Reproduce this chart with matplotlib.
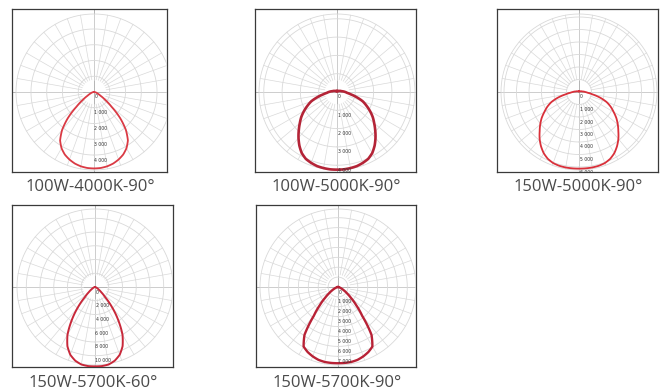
import numpy as np
import matplotlib
matplotlib.use("Agg")
import matplotlib.pyplot as plt
from matplotlib.transforms import offset_copy

# ---------------- data ----------------
ANGLES = [0, 5, 10, 15, 20, 25, 30, 35, 40, 45, 50, 55, 60, 65, 70, 75, 80, 85, 90, 100, 120, 150, 180]

I_100W_4000K_90 = [4850, 4840, 4790, 4700, 4560, 4380, 4120, 3750, 3150, 2350, 1450, 850, 480, 300,
                   200, 130, 80, 40, 0, 0, 0, 0, 0]
I_100W_5000K_90 = [4240, 4240, 4220, 4190, 4120, 4030, 3850, 3580, 3270, 2950, 2650, 2380, 2080, 1780,
                   1500, 1120, 780, 560, 450, 250, 100, 50, 50]
I_150W_5000K_90 = [6130, 6130, 6130, 6110, 6050, 5900, 5650, 5300, 4900, 4450, 4050, 3650, 3200, 2800,
                   2350, 1750, 1100, 700, 500, 250, 100, 50, 50]
I_150W_5700K_60 = [11550, 11550, 11450, 11100, 10500, 9500, 8000, 5900, 3900, 2100, 1200, 700, 400, 250,
                   150, 100, 50, 20, 0, 0, 0, 0, 0]
I_150W_5700K_90 = [7700, 7700, 7690, 7620, 7460, 7250, 6950, 5900, 3800, 2600, 1700, 1100, 700, 420,
                   250, 150, 80, 30, 0, 0, 0, 0, 0]

TITLES = ["100W-4000K-90°", "100W-5000K-90°", "150W-5000K-90°", "150W-5700K-60°", "150W-5700K-90°"]
SERIES = [I_100W_4000K_90, I_100W_5000K_90, I_150W_5000K_90, I_150W_5700K_60, I_150W_5700K_90]
TICK_STEP = [1000, 1000, 1000, 2000, 1000]
TICK_MAX = [5000, 4000, 6000, 10000, 8000]
RMAX = [4950, 4260, 6240, 11350, 7880]

# ---------------- layout / style ----------------
W, H = 662, 390
BOXES = [(12, 9, 167, 172), (255, 9, 416, 172), (497, 9, 658, 172),
         (12, 205, 173, 367), (256, 205, 416, 367)]
CENTERS = [(94, 92), (337, 92), (579, 92), (95, 287), (338, 287)]
R = 78
LABEL_Y = [187, 187, 187, 383, 383]
CURVE_COLORS = ["#da3a44", "#b42437", "#d9303a", "#c8283a", "#b82236"]
CURVE_LW = [1.3, 1.9, 1.3, 1.4, 1.7]
GRID = "#d9d9d9"

fig = plt.figure(figsize=(W / 100, H / 100), dpi=100)


def fmt(v):
    return f"{v:,}".replace(",", " ")


ring_theta = np.linspace(0, 2 * np.pi, 361)

for i in range(5):
    x0, y0, x1, y1 = BOXES[i]
    cx, cy = CENTERS[i]
    axf = fig.add_axes([x0 / W, 1 - y1 / H, (x1 - x0) / W, (y1 - y0) / H])
    axf.set_xlim(0, 1)
    axf.set_ylim(0, 1)
    axf.set_xticks([])
    axf.set_yticks([])
    for s in axf.spines.values():
        s.set_color("#3a3a3a")
        s.set_linewidth(0.9)
    xc = (cx - x0) / (x1 - x0)
    yc = (y1 - cy) / (y1 - y0)
    axf.axhline(yc, color="#a8a8a8", lw=0.6, zorder=1)
    axf.axvline(xc, color="#a8a8a8", lw=0.6, zorder=1)

    ax = fig.add_axes([(cx - R) / W, 1 - (cy + R) / H, 2 * R / W, 2 * R / H], projection="polar")
    ax.set_facecolor("none")
    ax.set_theta_zero_location("S")
    ax.set_xticks([])
    ax.set_yticks([])
    ax.grid(False)
    ax.spines["polar"].set_visible(False)
    step = TICK_STEP[i]
    rings = list(np.arange(step, RMAX[i], step)) + [RMAX[i]]
    for rv in rings:
        g, = ax.plot(ring_theta, np.full_like(ring_theta, rv), color=GRID, lw=0.6, zorder=1)
        g.set_clip_path(axf.patch)
    for a in range(0, 360, 10):
        g, = ax.plot([np.radians(a)] * 2, [0.16 * RMAX[i], RMAX[i]], color=GRID, lw=0.5, zorder=1)
        g.set_clip_path(axf.patch)

    ang = np.array(ANGLES, dtype=float)
    val = np.array(SERIES[i], dtype=float)
    th = np.radians(np.concatenate([-ang[::-1], ang[1:]]))
    rr = np.concatenate([val[::-1], val[1:]])
    ln, = ax.plot(th, rr, color=CURVE_COLORS[i], lw=CURVE_LW[i], zorder=5,
                  solid_joinstyle="round")
    ln.get_path()._interpolation_steps = 20
    ln.set_clip_path(axf.patch)

    tr = offset_copy(ax.transData, fig=fig, x=0.5, y=-5, units="dots")
    for v in range(0, TICK_MAX[i] + 1, step):
        t = ax.text(0, v, fmt(v), transform=tr, ha="left", va="center",
                    fontsize=3.3, color="#333333", family="DejaVu Sans", zorder=6)
        t.set_clip_path(axf.patch)
        t.set_clip_on(True)
    ax.set_rlim(0, RMAX[i])

    fig.text(((x0 + x1) / 2 + 1) / W, 1 - LABEL_Y[i] / H, TITLES[i], ha="center", va="center",
             fontsize=12, color="#4a4a4a", family=["Open Sans", "DejaVu Sans"])

fig.savefig("out.png", dpi=100)
